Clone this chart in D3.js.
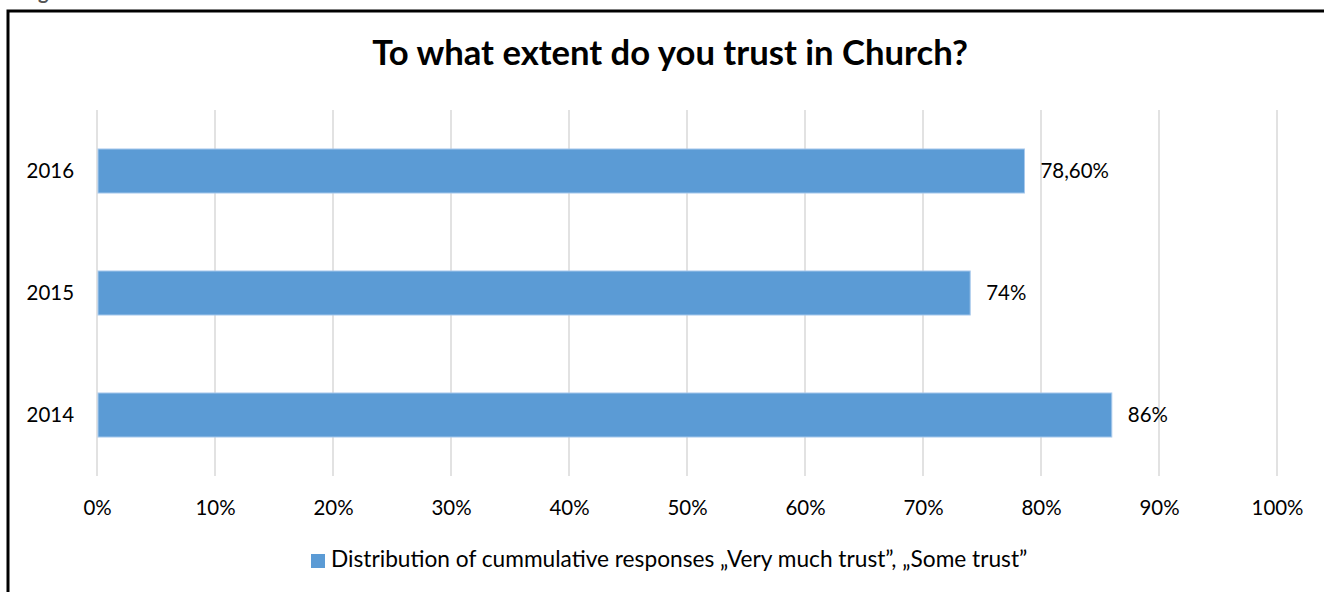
<!DOCTYPE html>
<html>
<head>
<meta charset="utf-8">
<script src="https://cdn.jsdelivr.net/npm/d3@7"></script>
<style>
  html, body { margin: 0; padding: 0; background: #fff; }
  svg { display: block; }
</style>
</head>
<body>
<script>
// Survey results: trust in Church by year
const years = ["2016", "2015", "2014"];
const trustShare = [78.6, 74, 86];
const valueLabels = ["78,60%", "74%", "86%"];
const tickValues = [0, 10, 20, 30, 40, 50, 60, 70, 80, 90, 100];
const tickLabels = ["0%", "10%", "20%", "30%", "40%", "50%", "60%", "70%", "80%", "90%", "100%"];
const titleText = "To what extent do you trust in Church?";
const legendText = "Distribution of cummulative responses \u201EVery much trust\u201D, \u201ESome trust\u201D";

const W = 1324, H = 592;
const FONT = "Lato, 'Open Sans', sans-serif";
const BAR = "#5B9BD5";

const svg = d3.select("body").append("svg").attr("width", W).attr("height", H);

// shrink or grow a text element's font size until it spans the given width
function fitWidth(sel, target) {
  const len = sel.node().getComputedTextLength();
  const fs = parseFloat(sel.attr("font-size"));
  const nfs = fs * target / len;
  sel.attr("font-size", nfs);
  return nfs;
}

// frame around the figure
svg.append("rect")
  .attr("x", 8).attr("y", 11)
  .attr("width", 1400).attr("height", 700)
  .attr("fill", "none").attr("stroke", "#000").attr("stroke-width", 3);

// caption fragment peeking in above the frame
svg.append("text")
  .attr("x", 38).attr("y", -1)
  .attr("font-family", FONT).attr("font-weight", "bold")
  .attr("font-size", 20).attr("fill", "#555")
  .text("g");

const x = d3.scaleLinear().domain([0, 100]).range([97, 1277]);
const y = d3.scaleBand().domain(years).range([110, 476]).paddingInner(0.639).paddingOuter(0.3195);

// title
const title = svg.append("text")
  .attr("x", 670).attr("y", 65)
  .attr("text-anchor", "middle")
  .attr("font-family", FONT).attr("font-weight", "bold")
  .attr("font-size", 30).attr("fill", "#000")
  .text(titleText);
fitWidth(title, 596);

// base label size from the widest tick label
const probe = svg.append("text").attr("font-family", FONT).attr("font-size", 20).text("100%");
const labelSize = fitWidth(probe, 52);
probe.remove();

// vertical gridlines
svg.append("g")
  .selectAll("line")
  .data(tickValues)
  .join("line")
  .attr("x1", d => x(d)).attr("x2", d => x(d))
  .attr("y1", 110).attr("y2", 476)
  .attr("stroke", "#d9d9d9").attr("stroke-width", 1.5);

// bottom axis labels (no axis line)
const xAxis = d3.axisBottom(x)
  .tickValues(tickValues)
  .tickFormat((d, i) => tickLabels[i])
  .tickSize(0).tickPadding(0);
const gx = svg.append("g").attr("transform", "translate(0,476)").call(xAxis);
gx.select(".domain").remove();
gx.selectAll("text")
  .attr("y", 39).attr("dy", null)
  .attr("font-family", FONT).attr("font-size", labelSize).attr("fill", "#000");

// category axis labels
const yAxis = d3.axisLeft(y).tickSize(0).tickPadding(0);
const gy = svg.append("g").attr("transform", "translate(74,0)").call(yAxis);
gy.select(".domain").remove();
gy.selectAll("text")
  .attr("x", 0).attr("dy", "0.34em")
  .attr("font-family", FONT).attr("font-size", labelSize).attr("fill", "#000");

// bars
svg.append("g")
  .selectAll("rect")
  .data(years)
  .join("rect")
  .attr("x", x(0) + 1)
  .attr("y", d => y(d))
  .attr("width", (d, i) => x(trustShare[i]) - x(0) - 1)
  .attr("height", y.bandwidth())
  .attr("fill", BAR)
  .attr("stroke", "#a8c9ec").attr("stroke-width", 1);

// value labels
svg.append("g")
  .selectAll("text")
  .data(years)
  .join("text")
  .attr("x", (d, i) => x(trustShare[i]) + 16)
  .attr("y", d => y(d) + y.bandwidth() / 2)
  .attr("dy", "0.36em")
  .attr("font-family", FONT).attr("font-size", labelSize).attr("fill", "#000")
  .text((d, i) => valueLabels[i]);

// legend
svg.append("rect")
  .attr("x", 311).attr("y", 554).attr("width", 14).attr("height", 14)
  .attr("fill", BAR);
const leg = svg.append("text")
  .attr("x", 331).attr("y", 567)
  .attr("font-family", FONT).attr("font-size", 20).attr("fill", "#000")
  .text(legendText);
fitWidth(leg, 697);
</script>
</body>
</html>
